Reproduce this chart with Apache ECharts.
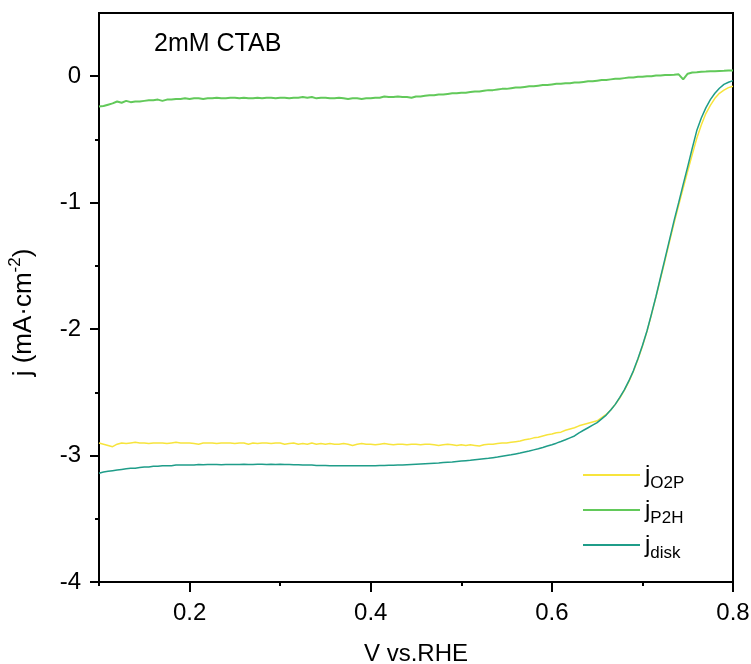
<!DOCTYPE html>
<html><head><meta charset="utf-8">
<script src="https://cdn.jsdelivr.net/npm/echarts@6/dist/echarts.min.js"></script>
<style>html,body{margin:0;padding:0;background:#fff}#c{width:751px;height:664px}</style>
</head><body><div id="c"></div>
<script>
const volts = [
0.100,0.105,0.110,0.115,0.120,0.125,0.130,0.135,0.140,0.145,
0.150,0.155,0.160,0.165,0.170,0.175,0.180,0.185,0.190,0.195,
0.200,0.205,0.210,0.215,0.220,0.225,0.230,0.235,0.240,0.245,
0.250,0.255,0.260,0.265,0.270,0.275,0.280,0.285,0.290,0.295,
0.300,0.305,0.310,0.315,0.320,0.325,0.330,0.335,0.340,0.345,
0.350,0.355,0.360,0.365,0.370,0.375,0.380,0.385,0.390,0.395,
0.400,0.405,0.410,0.415,0.420,0.425,0.430,0.435,0.440,0.445,
0.450,0.455,0.460,0.465,0.470,0.475,0.480,0.485,0.490,0.495,
0.500,0.505,0.510,0.515,0.520,0.525,0.530,0.535,0.540,0.545,
0.550,0.555,0.560,0.565,0.570,0.575,0.580,0.585,0.590,0.595,
0.600,0.605,0.610,0.615,0.620,0.625,0.630,0.635,0.640,0.645,
0.650,0.655,0.660,0.665,0.670,0.675,0.680,0.685,0.690,0.695,
0.700,0.705,0.710,0.715,0.720,0.725,0.730,0.735,0.740,0.745,
0.750,0.755,0.760,0.765,0.770,0.775,0.780,0.785,0.790,0.795,
0.800];

const jO2P = [
-2.90,-2.91,-2.92,-2.93,-2.91,-2.90,-2.905,-2.90,-2.895,-2.90,
-2.90,-2.905,-2.90,-2.90,-2.90,-2.905,-2.90,-2.895,-2.90,-2.90,
-2.90,-2.905,-2.91,-2.90,-2.90,-2.90,-2.905,-2.90,-2.90,-2.90,
-2.905,-2.90,-2.90,-2.91,-2.90,-2.905,-2.90,-2.90,-2.905,-2.90,
-2.90,-2.91,-2.905,-2.90,-2.91,-2.905,-2.91,-2.90,-2.91,-2.905,
-2.91,-2.905,-2.91,-2.91,-2.905,-2.91,-2.92,-2.91,-2.905,-2.91,
-2.91,-2.915,-2.91,-2.905,-2.91,-2.915,-2.91,-2.91,-2.915,-2.91,
-2.91,-2.915,-2.91,-2.91,-2.915,-2.92,-2.915,-2.91,-2.915,-2.92,
-2.915,-2.92,-2.915,-2.92,-2.925,-2.915,-2.91,-2.91,-2.905,-2.90,
-2.90,-2.895,-2.89,-2.885,-2.875,-2.87,-2.86,-2.855,-2.845,-2.835,
-2.83,-2.82,-2.815,-2.80,-2.79,-2.78,-2.765,-2.755,-2.745,-2.735,
-2.725,-2.70,-2.675,-2.64,-2.595,-2.545,-2.485,-2.415,-2.335,-2.24,
-2.135,-2.02,-1.885,-1.745,-1.60,-1.455,-1.305,-1.16,-1.02,-0.885,
-0.75,-0.62,-0.49,-0.385,-0.295,-0.23,-0.175,-0.135,-0.11,-0.09,
-0.08];

const jP2H = [
-0.24,-0.235,-0.225,-0.215,-0.20,-0.21,-0.195,-0.205,-0.20,-0.20,
-0.195,-0.19,-0.19,-0.185,-0.195,-0.185,-0.185,-0.18,-0.18,-0.175,
-0.18,-0.175,-0.175,-0.18,-0.175,-0.175,-0.17,-0.175,-0.175,-0.17,
-0.17,-0.175,-0.17,-0.175,-0.175,-0.17,-0.175,-0.17,-0.17,-0.175,
-0.17,-0.17,-0.175,-0.17,-0.17,-0.165,-0.17,-0.165,-0.175,-0.17,
-0.17,-0.175,-0.175,-0.17,-0.175,-0.18,-0.175,-0.175,-0.18,-0.175,
-0.175,-0.17,-0.17,-0.16,-0.165,-0.165,-0.16,-0.165,-0.165,-0.17,
-0.16,-0.16,-0.155,-0.15,-0.15,-0.145,-0.145,-0.14,-0.135,-0.135,
-0.13,-0.13,-0.125,-0.12,-0.12,-0.115,-0.11,-0.11,-0.105,-0.10,
-0.10,-0.095,-0.09,-0.09,-0.085,-0.08,-0.08,-0.075,-0.07,-0.07,
-0.065,-0.06,-0.06,-0.055,-0.055,-0.05,-0.05,-0.045,-0.04,-0.04,
-0.035,-0.03,-0.03,-0.025,-0.02,-0.02,-0.015,-0.01,-0.01,-0.005,
-0.005,0.0,0.0,0.005,0.005,0.01,0.01,0.012,0.015,-0.025,
0.02,0.03,0.032,0.035,0.037,0.04,0.04,0.042,0.043,0.045,
0.045];

const jDisk = [
-3.14,-3.13,-3.125,-3.12,-3.115,-3.11,-3.105,-3.10,-3.10,-3.095,
-3.09,-3.09,-3.085,-3.085,-3.08,-3.08,-3.08,-3.075,-3.075,-3.075,
-3.075,-3.075,-3.07,-3.072,-3.07,-3.07,-3.07,-3.072,-3.07,-3.07,
-3.07,-3.07,-3.068,-3.07,-3.07,-3.068,-3.068,-3.07,-3.068,-3.07,
-3.068,-3.07,-3.07,-3.072,-3.072,-3.075,-3.075,-3.075,-3.078,-3.078,
-3.078,-3.08,-3.08,-3.08,-3.08,-3.08,-3.08,-3.08,-3.08,-3.08,
-3.08,-3.08,-3.078,-3.078,-3.077,-3.076,-3.075,-3.074,-3.072,-3.07,
-3.068,-3.066,-3.064,-3.062,-3.06,-3.058,-3.055,-3.052,-3.05,-3.047,
-3.044,-3.041,-3.038,-3.034,-3.03,-3.026,-3.022,-3.017,-3.012,-3.006,
-3.00,-2.994,-2.987,-2.98,-2.972,-2.964,-2.955,-2.946,-2.936,-2.925,
-2.914,-2.902,-2.889,-2.875,-2.86,-2.845,-2.82,-2.80,-2.78,-2.76,
-2.74,-2.71,-2.68,-2.64,-2.595,-2.54,-2.48,-2.41,-2.33,-2.235,
-2.13,-2.015,-1.88,-1.74,-1.59,-1.44,-1.29,-1.14,-1.00,-0.855,
-0.715,-0.57,-0.43,-0.33,-0.25,-0.185,-0.135,-0.095,-0.065,-0.048,
-0.035];

const seriesNames = ['O2P', 'P2H', 'disk'];
const seriesColors = ['#f7e43c', '#62c95a', '#1f9d89'];
const xMajorTicks = [0.2, 0.4, 0.6, 0.8];
const xMinorTicks = [0.1, 0.3, 0.5, 0.7];
const yMajorTicks = [-4, -3, -2, -1, 0];
const yMinorTicks = [-3.5, -2.5, -1.5, -0.5];
const annotation = '2mM CTAB';
const xTitle = 'V vs.RHE';

const FONT = "'Liberation Sans', Arial, sans-serif";
const pair = arr => volts.map((v, i) => [v, arr[i]]);
const seriesData = [jO2P, jP2H, jDisk];
const widths = [1.5, 2, 1.5];

const chart = echarts.init(document.getElementById('c'), null, {renderer: 'canvas'});
const tickStyle = {color: '#000', width: 2};
chart.setOption({
  animation: false,
  backgroundColor: '#fff',
  title: {text: annotation, left: 154, top: 32, padding: 0,
    textStyle: {fontFamily: FONT, fontSize: 25, fontWeight: 'normal', color: '#000'}},
  grid: {left: 99, right: 18, top: 13, bottom: 82, show: true, borderColor: '#000', borderWidth: 2,
    backgroundColor: 'transparent', containLabel: false, outerBoundsMode: 'none'},
  legend: {
    orient: 'vertical', left: 583, top: 463, itemWidth: 57, itemHeight: 2, itemGap: 6, padding: 0,
    icon: 'rect',
    data: seriesNames,
    formatter: n => '{j|j}{s|' + n + '}',
    textStyle: {color: '#000', fontFamily: FONT,
      rich: {
        j: {fontSize: 24, lineHeight: 34, fontFamily: FONT, color: '#000'},
        s: {fontSize: 17, lineHeight: 17, verticalAlign: 'bottom', fontFamily: FONT, color: '#000'}
      }}
  },
  xAxis: [
    {type: 'value', min: 0.1, max: 0.8, interval: 0.1, position: 'bottom',
     axisLine: {show: true, onZero: false, lineStyle: {color: '#000', width: 2}},
     axisTick: {show: true, inside: false, length: 10, customValues: xMajorTicks, lineStyle: tickStyle},
     axisLabel: {customValues: xMajorTicks, formatter: v => v.toFixed(1), fontSize: 24, fontFamily: FONT, color: '#000', margin: 19},
     splitLine: {show: false},
     name: xTitle, nameLocation: 'middle', nameGap: 60,
     nameTextStyle: {fontSize: 24, fontFamily: FONT, color: '#000'}},
    {type: 'value', min: 0.1, max: 0.8, interval: 0.1, position: 'bottom', offset: 0,
     axisLine: {show: false, onZero: false},
     axisTick: {show: true, inside: false, length: 4, customValues: xMinorTicks, lineStyle: tickStyle},
     axisLabel: {show: false}, splitLine: {show: false}}
  ],
  yAxis: [
    {type: 'value', min: -4, max: 0.5, interval: 0.5, position: 'left',
     axisLine: {show: true, onZero: false, lineStyle: {color: '#000', width: 2}},
     axisTick: {show: true, inside: false, length: 9, customValues: yMajorTicks, lineStyle: tickStyle},
     axisLabel: {customValues: yMajorTicks, formatter: v => String(v), fontSize: 24, fontFamily: FONT, color: '#000', margin: 18},
     splitLine: {show: false},
     name: '{a|j (mA·cm}{b|-2}{a|)}', nameLocation: 'middle', nameGap: 58, nameRotate: 90,
     nameTextStyle: {padding: [0, 30, 0, 0],
       rich: {
         a: {fontSize: 26, lineHeight: 34, fontFamily: FONT, color: '#000'},
         b: {fontSize: 17, lineHeight: 21, verticalAlign: 'top', fontFamily: FONT, color: '#000'}
       }}},
    {type: 'value', min: -4, max: 0.5, interval: 0.5, position: 'left', offset: 0,
     axisLine: {show: false, onZero: false},
     axisTick: {show: true, inside: false, length: 4, customValues: yMinorTicks, lineStyle: tickStyle},
     axisLabel: {show: false}, splitLine: {show: false}}
  ],
  series: seriesNames.map((n, i) => ({
    name: n, type: 'line', xAxisIndex: 0, yAxisIndex: 0,
    data: pair(seriesData[i]), symbol: 'none', showSymbol: false,
    lineStyle: {color: seriesColors[i], width: widths[i]},
    itemStyle: {color: seriesColors[i]},
    emphasis: {disabled: true}
  }))
});
</script></body></html>
